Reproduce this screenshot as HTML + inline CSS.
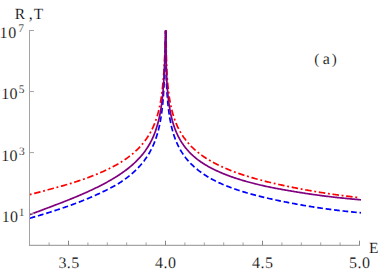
<!DOCTYPE html>
<html><head><meta charset="utf-8"><title>plot</title>
<style>
html,body{margin:0;padding:0;background:#fff;}
body{width:382px;height:273px;overflow:hidden;}
svg{display:block;}
svg text{font-family:"Liberation Serif",serif;fill:#000;text-rendering:geometricPrecision;stroke:#fff;stroke-width:0.18px;paint-order:fill stroke;}
</style></head><body>
<svg width="382" height="273" viewBox="0 0 382 273">
<defs><clipPath id="c"><rect x="28" y="30.4" width="334" height="217"/></clipPath></defs>
<rect width="382" height="273" fill="#fff"/>
<g clip-path="url(#c)" fill="none" stroke-linejoin="round" stroke-width="1.7">
<path d="M29.70,194.56 L30.66,194.31 L31.62,194.06 L32.58,193.81 L33.54,193.57 L34.50,193.32 L35.46,193.07 L36.43,192.83 L37.39,192.58 L38.35,192.33 L39.31,192.08 L40.27,191.83 L41.23,191.57 L42.19,191.32 L43.15,191.06 L44.11,190.81 L45.07,190.55 L46.03,190.29 L46.99,190.03 L47.96,189.77 L48.92,189.50 L49.88,189.24 L50.84,188.98 L51.80,188.73 L52.76,188.48 L53.72,188.23 L54.68,187.97 L55.64,187.71 L56.60,187.45 L57.56,187.19 L58.52,186.93 L59.49,186.66 L60.45,186.40 L61.41,186.13 L62.37,185.86 L63.33,185.59 L64.29,185.31 L65.25,185.04 L66.21,184.76 L67.17,184.48 L68.13,184.19 L69.09,183.91 L70.05,183.62 L71.02,183.32 L71.98,183.02 L72.94,182.72 L73.90,182.41 L74.86,182.11 L75.82,181.80 L76.78,181.48 L77.74,181.17 L78.70,180.85 L79.66,180.53 L80.62,180.20 L81.58,179.87 L82.55,179.54 L83.51,179.21 L84.47,178.87 L85.43,178.53 L86.39,178.18 L87.35,177.83 L88.31,177.48 L89.27,177.12 L90.23,176.76 L91.19,176.40 L92.15,176.03 L93.11,175.66 L94.08,175.28 L95.04,174.90 L96.00,174.51 L96.96,174.12 L97.92,173.72 L98.88,173.32 L99.84,172.91 L100.80,172.50 L101.76,172.08 L102.72,171.66 L103.68,171.23 L104.64,170.79 L105.61,170.35 L106.57,169.91 L107.53,169.45 L108.49,168.99 L109.45,168.52 L110.41,168.04 L111.37,167.56 L112.33,167.07 L113.29,166.57 L114.25,166.06 L115.21,165.54 L116.17,165.01 L117.14,164.47 L118.10,163.92 L119.06,163.36 L120.02,162.79 L120.98,162.19 L121.94,161.58 L122.90,160.96 L123.86,160.32 L124.82,159.67 L125.78,159.01 L126.74,158.33 L127.70,157.63 L128.67,156.91 L129.63,156.18 L130.59,155.43 L131.55,154.66 L132.51,153.87 L133.47,153.05 L134.43,152.21 L135.39,151.34 L136.35,150.45 L137.31,149.53 L138.27,148.58 L139.23,147.59 L140.20,146.57 L141.16,145.51 L142.12,144.41 L143.08,143.26 L144.04,142.06 L145.00,140.81 L145.73,139.81 L146.44,138.82 L147.13,137.82 L147.78,136.83 L148.42,135.83 L149.03,134.82 L149.62,133.82 L150.19,132.81 L150.73,131.81 L151.26,130.81 L151.77,129.81 L152.26,128.81 L152.73,127.82 L153.19,126.82 L153.63,125.82 L154.05,124.82 L154.46,123.83 L154.85,122.83 L155.23,121.84 L155.59,120.85 L155.94,119.85 L156.28,118.86 L156.61,117.87 L156.92,116.88 L157.23,115.89 L157.52,114.90 L157.80,113.91 L158.07,112.92 L158.33,111.93 L158.59,110.94 L158.83,109.95 L159.06,108.97 L159.29,107.98 L159.51,106.99 L159.72,106.00 L159.92,105.02 L160.11,104.04 L160.30,103.06 L160.48,102.08 L160.66,101.10 L160.82,100.12 L160.99,99.14 L161.14,98.16 L161.29,97.18 L161.44,96.20 L161.58,95.22 L161.71,94.24 L161.84,93.26 L161.97,92.29 L162.09,91.31 L162.20,90.33 L162.32,89.35 L162.42,88.37 L162.53,87.39 L162.63,86.41 L162.73,85.43 L162.82,84.46 L162.91,83.48 L163.00,82.50 L163.08,81.52 L163.16,80.54 L163.24,79.56 L163.33,78.58 L163.41,77.61 L163.49,76.63 L163.56,75.65 L163.64,74.67 L163.71,73.69 L163.78,72.71 L163.85,71.74 L163.91,70.76 L163.98,69.78 L164.04,68.80 L164.10,67.82 L164.15,66.85 L164.21,65.87 L164.26,64.89 L164.32,63.91 L164.37,62.93 L164.42,61.95 L164.47,60.98 L164.51,60.00 L164.56,59.02 L164.60,58.04 L164.65,57.06 L164.69,56.09 L164.73,55.11 L164.77,54.13 L164.81,53.15 L164.84,52.17 L164.88,51.20 L164.92,50.22 L164.95,49.24 L164.98,48.26 L165.02,47.28 L165.05,46.31 L165.08,45.33 L165.11,44.35 L165.14,43.37 L165.17,42.39 L165.20,41.42 L165.22,40.44 L165.25,39.46 L165.28,38.48 L165.30,37.50 L165.33,36.53 L165.35,35.55 L165.38,34.57 L165.40,33.59 L165.42,32.62 L165.44,31.64 L165.47,30.66 L165.49,29.68 L165.50,28.70 L165.51,27.73 L165.52,26.75 L165.53,25.77 L165.54,24.79 L165.55,23.81 L165.56,22.84 L165.57,21.86 L165.57,20.88 L165.58,19.90 L165.59,18.93 L165.60,17.95 L165.61,16.97 L165.61,15.99 L165.62,15.01 L165.63,14.04 L165.63,13.06 L165.64,12.08 L165.64,11.10 L165.65,10.12 L165.66,9.15 L165.66,8.17 L165.67,7.19 L165.67,6.21 L165.67,5.24 L165.68,4.26 L165.68,3.28 L165.69,2.30 L165.69,1.32 L165.70,0.35 L165.70,-0.63 L165.70,-1.61 L165.71,-2.59 L165.71,-3.56 L165.71,-4.54 L165.72,-5.52 L165.72,-6.50 L165.72,-7.48 L165.73,-8.45 L165.73,-9.43 L165.73,-10.41 L165.73,-11.39 L165.74,-12.36 L165.74,-13.34 L165.74,-14.32 L165.74,-15.30 L165.74,-16.28 L165.75,-17.25 L165.75,-18.23 L165.75,-19.21 L165.75,-20.19 L165.75,-21.17 L165.76,-22.14 L165.76,-23.12 L165.76,-24.10 L165.76,-25.08 L165.76,-26.05 L165.76,-27.03 L165.76,-28.01 L165.77,-28.99 L165.77,-29.97 L165.77,-30.94 L165.77,-31.92 L165.77,-32.90 L165.77,-33.88 L165.77,-34.85 L165.77,-35.83 L165.77,-36.81 L165.78,-37.79 L165.78,-38.77 L165.78,-39.74" stroke="#ff0000" stroke-dasharray="1.9 2.7 6.55 2.7"/>
<path d="M359.85,197.66 L358.88,197.56 L357.90,197.45 L356.93,197.35 L355.96,197.25 L354.98,197.13 L354.01,197.02 L353.04,196.90 L352.06,196.79 L351.09,196.67 L350.12,196.55 L349.14,196.43 L348.17,196.31 L347.19,196.19 L346.22,196.06 L345.25,195.94 L344.27,195.81 L343.30,195.69 L342.33,195.56 L341.35,195.43 L340.38,195.30 L339.41,195.17 L338.43,195.04 L337.46,194.91 L336.49,194.77 L335.51,194.64 L334.54,194.50 L333.57,194.36 L332.59,194.22 L331.62,194.09 L330.65,193.94 L329.67,193.80 L328.70,193.66 L327.73,193.51 L326.75,193.37 L325.78,193.22 L324.81,193.07 L323.83,192.92 L322.86,192.77 L321.88,192.62 L320.91,192.47 L319.94,192.31 L318.96,192.15 L317.99,192.00 L317.02,191.84 L316.04,191.67 L315.07,191.51 L314.10,191.35 L313.12,191.18 L312.15,191.01 L311.18,190.85 L310.20,190.68 L309.23,190.50 L308.26,190.33 L307.28,190.16 L306.31,189.98 L305.34,189.81 L304.36,189.63 L303.39,189.45 L302.42,189.27 L301.44,189.08 L300.47,188.90 L299.50,188.71 L298.52,188.52 L297.55,188.33 L296.57,188.14 L295.60,187.95 L294.63,187.76 L293.65,187.56 L292.68,187.36 L291.71,187.16 L290.73,186.96 L289.76,186.76 L288.79,186.57 L287.81,186.37 L286.84,186.17 L285.87,185.98 L284.89,185.77 L283.92,185.57 L282.95,185.37 L281.97,185.16 L281.00,184.95 L280.03,184.74 L279.05,184.53 L278.08,184.31 L277.11,184.10 L276.13,183.88 L275.16,183.65 L274.19,183.43 L273.21,183.20 L272.24,182.98 L271.26,182.75 L270.29,182.51 L269.32,182.28 L268.34,182.04 L267.37,181.80 L266.40,181.56 L265.42,181.31 L264.45,181.06 L263.48,180.81 L262.50,180.56 L261.53,180.30 L260.56,180.04 L259.58,179.78 L258.61,179.52 L257.64,179.26 L256.66,178.99 L255.69,178.72 L254.72,178.45 L253.74,178.17 L252.77,177.89 L251.80,177.61 L250.82,177.32 L249.85,177.03 L248.88,176.73 L247.90,176.44 L246.93,176.14 L245.95,175.83 L244.98,175.52 L244.01,175.21 L243.03,174.89 L242.06,174.57 L241.09,174.24 L240.11,173.91 L239.14,173.58 L238.17,173.24 L237.19,172.89 L236.22,172.54 L235.25,172.19 L234.27,171.83 L233.30,171.46 L232.33,171.09 L231.35,170.72 L230.38,170.34 L229.41,169.95 L228.43,169.55 L227.46,169.15 L226.49,168.75 L225.51,168.33 L224.54,167.91 L223.57,167.48 L222.59,167.05 L221.62,166.61 L220.64,166.16 L219.67,165.70 L218.70,165.23 L217.72,164.75 L216.75,164.27 L215.78,163.77 L214.80,163.27 L213.83,162.75 L212.86,162.23 L211.88,161.69 L210.91,161.14 L209.94,160.58 L208.96,160.01 L207.99,159.42 L207.02,158.82 L206.04,158.20 L205.07,157.57 L204.10,156.93 L203.12,156.27 L202.15,155.59 L201.18,154.89 L200.20,154.17 L199.23,153.43 L198.26,152.67 L197.28,151.89 L196.31,151.07 L195.33,150.22 L194.36,149.34 L193.39,148.44 L192.41,147.50 L191.44,146.53 L190.47,145.52 L189.49,144.47 L188.52,143.38 L187.55,142.24 L186.57,141.05 L185.60,139.82 L184.87,138.85 L184.16,137.89 L183.47,136.93 L182.82,135.96 L182.18,135.00 L181.57,134.03 L180.98,133.06 L180.41,132.10 L179.87,131.13 L179.34,130.16 L178.83,129.20 L178.34,128.23 L177.87,127.26 L177.41,126.29 L176.97,125.32 L176.55,124.35 L176.14,123.38 L175.75,122.41 L175.37,121.44 L175.01,120.47 L174.66,119.50 L174.32,118.53 L173.99,117.56 L173.68,116.59 L173.37,115.62 L173.08,114.64 L172.80,113.67 L172.53,112.70 L172.27,111.73 L172.01,110.75 L171.77,109.78 L171.54,108.81 L171.31,107.84 L171.09,106.86 L170.88,105.89 L170.68,104.91 L170.49,103.94 L170.30,102.97 L170.12,101.99 L169.94,101.02 L169.78,100.04 L169.61,99.07 L169.46,98.09 L169.31,97.11 L169.16,96.14 L169.02,95.16 L168.89,94.18 L168.76,93.21 L168.63,92.23 L168.51,91.25 L168.40,90.28 L168.28,89.30 L168.18,88.32 L168.07,87.34 L167.97,86.37 L167.87,85.39 L167.78,84.41 L167.69,83.44 L167.60,82.46 L167.52,81.48 L167.44,80.51 L167.37,79.53 L167.30,78.55 L167.24,77.57 L167.18,76.60 L167.12,75.62 L167.07,74.64 L167.02,73.66 L166.97,72.69 L166.92,71.71 L166.87,70.73 L166.83,69.76 L166.79,68.78 L166.75,67.80 L166.71,66.82 L166.67,65.85 L166.64,64.87 L166.60,63.89 L166.57,62.91 L166.54,61.94 L166.51,60.96 L166.49,59.98 L166.46,59.00 L166.44,58.03 L166.41,57.05 L166.39,56.07 L166.37,55.09 L166.35,54.12 L166.33,53.14 L166.31,52.16 L166.30,51.18 L166.28,50.21 L166.27,49.23 L166.25,48.25 L166.24,47.27 L166.23,46.30 L166.21,45.32 L166.20,44.34 L166.19,43.36 L166.18,42.39 L166.18,41.41 L166.17,40.43 L166.16,39.45 L166.15,38.48 L166.15,37.50 L166.14,36.52 L166.14,35.54 L166.13,34.56 L166.13,33.59 L166.13,32.61 L166.12,31.63 L166.12,30.65 L166.11,29.68 L166.10,28.70 L166.09,27.72 L166.08,26.74 L166.07,25.77 L166.06,24.79 L166.05,23.81 L166.04,22.83 L166.03,21.85 L166.03,20.88 L166.02,19.90 L166.01,18.92 L166.00,17.94 L165.99,16.97 L165.99,15.99 L165.98,15.01 L165.97,14.03 L165.97,13.06 L165.96,12.08 L165.96,11.10 L165.95,10.12 L165.94,9.14 L165.94,8.17 L165.93,7.19 L165.93,6.21 L165.93,5.23 L165.92,4.26 L165.92,3.28 L165.91,2.30 L165.91,1.32 L165.90,0.34 L165.90,-0.63 L165.90,-1.61 L165.89,-2.59 L165.89,-3.57 L165.89,-4.54 L165.88,-5.52 L165.88,-6.50 L165.88,-7.48 L165.87,-8.45 L165.87,-9.43 L165.87,-10.41 L165.87,-11.39 L165.86,-12.37 L165.86,-13.34 L165.86,-14.32 L165.86,-15.30 L165.86,-16.28 L165.85,-17.25 L165.85,-18.23 L165.85,-19.21 L165.85,-20.19 L165.85,-21.17 L165.84,-22.14 L165.84,-23.12 L165.84,-24.10 L165.84,-25.08 L165.84,-26.05 L165.84,-27.03 L165.84,-28.01 L165.83,-28.99 L165.83,-29.97 L165.83,-30.94 L165.83,-31.92 L165.83,-32.90 L165.83,-33.88 L165.83,-34.85 L165.83,-35.83 L165.83,-36.81 L165.82,-37.79 L165.82,-38.77 L165.82,-39.74" stroke="#ff0000" stroke-dasharray="1.9 2.7 6.5 2.7" stroke-dashoffset="11.1"/>
<path d="M29.70,218.30 L30.66,218.01 L31.62,217.72 L32.58,217.43 L33.54,217.15 L34.50,216.87 L35.46,216.58 L36.43,216.30 L37.39,216.01 L38.35,215.73 L39.31,215.44 L40.27,215.15 L41.23,214.86 L42.19,214.57 L43.15,214.28 L44.11,213.99 L45.07,213.70 L46.03,213.41 L46.99,213.11 L47.96,212.82 L48.92,212.52 L49.88,212.22 L50.84,211.92 L51.80,211.61 L52.76,211.30 L53.72,210.99 L54.68,210.68 L55.64,210.36 L56.60,210.05 L57.56,209.73 L58.52,209.42 L59.49,209.10 L60.45,208.78 L61.41,208.45 L62.37,208.13 L63.33,207.81 L64.29,207.48 L65.25,207.15 L66.21,206.82 L67.17,206.49 L68.13,206.15 L69.09,205.82 L70.05,205.48 L71.02,205.13 L71.98,204.77 L72.94,204.42 L73.90,204.06 L74.86,203.70 L75.82,203.33 L76.78,202.97 L77.74,202.60 L78.70,202.23 L79.66,201.85 L80.62,201.48 L81.58,201.10 L82.55,200.72 L83.51,200.33 L84.47,199.94 L85.43,199.55 L86.39,199.16 L87.35,198.76 L88.31,198.36 L89.27,197.95 L90.23,197.55 L91.19,197.13 L92.15,196.72 L93.11,196.30 L94.08,195.87 L95.04,195.44 L96.00,195.01 L96.96,194.57 L97.92,194.13 L98.88,193.68 L99.84,193.23 L100.80,192.77 L101.76,192.31 L102.72,191.84 L103.68,191.37 L104.64,190.89 L105.61,190.42 L106.57,189.95 L107.53,189.48 L108.49,189.00 L109.45,188.51 L110.41,188.01 L111.37,187.51 L112.33,187.00 L113.29,186.48 L114.25,185.95 L115.21,185.42 L116.17,184.87 L117.14,184.32 L118.10,183.75 L119.06,183.18 L120.02,182.59 L120.98,181.95 L121.94,181.30 L122.90,180.63 L123.86,179.96 L124.82,179.27 L125.78,178.56 L126.74,177.84 L127.70,177.10 L128.67,176.35 L129.63,175.58 L130.59,174.79 L131.55,173.98 L132.51,173.14 L133.47,172.29 L134.43,171.41 L135.39,170.51 L136.35,169.58 L137.31,168.62 L138.27,167.63 L139.23,166.61 L140.20,165.55 L141.16,164.45 L142.12,163.31 L143.08,162.13 L144.04,160.90 L145.00,159.61 L145.73,158.59 L146.44,157.56 L147.13,156.54 L147.78,155.52 L148.42,154.51 L149.03,153.49 L149.62,152.48 L150.19,151.46 L150.73,150.45 L151.26,149.44 L151.77,148.43 L152.26,147.43 L152.73,146.42 L153.19,145.41 L153.63,144.41 L154.05,143.41 L154.46,142.40 L154.85,141.40 L155.23,140.39 L155.59,139.38 L155.94,138.38 L156.28,137.37 L156.61,136.36 L156.92,135.35 L157.23,134.35 L157.52,133.35 L157.80,132.34 L158.07,131.34 L158.33,130.34 L158.59,129.34 L158.83,128.34 L159.06,127.34 L159.29,126.34 L159.51,125.35 L159.72,124.35 L159.92,123.36 L160.11,122.36 L160.30,121.37 L160.48,120.37 L160.66,119.38 L160.82,118.39 L160.99,117.39 L161.14,116.40 L161.29,115.41 L161.44,114.42 L161.58,113.43 L161.71,112.44 L161.84,111.45 L161.97,110.46 L162.09,109.48 L162.20,108.49 L162.32,107.50 L162.42,106.51 L162.53,105.53 L162.63,104.54 L162.73,103.55 L162.82,102.57 L162.91,101.58 L163.00,100.60 L163.08,99.62 L163.16,98.64 L163.24,97.66 L163.31,96.68 L163.38,95.70 L163.45,94.72 L163.52,93.74 L163.58,92.76 L163.65,91.78 L163.71,90.80 L163.76,89.82 L163.82,88.84 L163.87,87.86 L163.92,86.88 L163.97,85.90 L164.02,84.92 L164.07,83.94 L164.11,82.96 L164.16,81.98 L164.20,81.00 L164.24,80.02 L164.29,79.05 L164.33,78.07 L164.38,77.09 L164.42,76.11 L164.47,75.13 L164.51,74.15 L164.55,73.17 L164.59,72.19 L164.63,71.22 L164.66,70.24 L164.70,69.26 L164.73,68.28 L164.77,67.30 L164.80,66.32 L164.84,65.34 L164.87,64.37 L164.90,63.39 L164.93,62.41 L164.96,61.43 L164.99,60.45 L165.02,59.47 L165.04,58.50 L165.07,57.52 L165.10,56.54 L165.12,55.56 L165.15,54.58 L165.17,53.60 L165.20,52.63 L165.22,51.65 L165.24,50.67 L165.26,49.69 L165.29,48.71 L165.31,47.74 L165.33,46.76 L165.35,45.78 L165.37,44.80 L165.39,43.82 L165.41,42.85 L165.43,41.87 L165.45,40.89 L165.47,39.91 L165.48,38.93 L165.50,37.95 L165.52,36.98 L165.54,36.00 L165.56,35.02 L165.57,34.04 L165.59,33.06 L165.60,32.09 L165.62,31.11 L165.64,30.13 L165.64,29.15 L165.65,28.18 L165.66,27.20 L165.66,26.22 L165.67,25.24 L165.67,24.26 L165.67,23.29 L165.68,22.31 L165.68,21.33 L165.69,20.35 L165.69,19.37 L165.70,18.40 L165.70,17.42 L165.70,16.44 L165.71,15.46 L165.71,14.48 L165.71,13.51 L165.72,12.53 L165.72,11.55 L165.72,10.57 L165.73,9.60 L165.73,8.62 L165.73,7.64 L165.73,6.66 L165.74,5.68 L165.74,4.71 L165.74,3.73 L165.74,2.75 L165.74,1.77 L165.75,0.79 L165.75,-0.18 L165.75,-1.16 L165.75,-2.14 L165.75,-3.12 L165.76,-4.09 L165.76,-5.07 L165.76,-6.05 L165.76,-7.03 L165.76,-8.01 L165.76,-8.98 L165.76,-9.96 L165.77,-10.94 L165.77,-11.92 L165.77,-12.90 L165.77,-13.87 L165.77,-14.85 L165.77,-15.83 L165.77,-16.81 L165.77,-17.78 L165.77,-18.76 L165.78,-19.74 L165.78,-20.72 L165.78,-21.70 L165.78,-22.67 L165.78,-23.65 L165.78,-24.63 L165.78,-25.61 L165.78,-26.58 L165.78,-27.56 L165.78,-28.54 L165.78,-29.52 L165.78,-30.50 L165.78,-31.47 L165.78,-32.45 L165.79,-33.43 L165.79,-34.41 L165.79,-35.38 L165.79,-36.36 L165.79,-37.34 L165.79,-38.32 L165.79,-39.30" stroke="#0000ff" stroke-dasharray="5.75 2.87"/>
<path d="M361.00,212.80 L360.02,212.71 L359.04,212.62 L358.06,212.53 L357.08,212.43 L356.10,212.33 L355.12,212.24 L354.14,212.14 L353.16,212.04 L352.18,211.95 L351.20,211.85 L350.22,211.74 L349.24,211.64 L348.26,211.54 L347.28,211.43 L346.30,211.33 L345.32,211.22 L344.34,211.11 L343.36,211.00 L342.38,210.89 L341.40,210.78 L340.42,210.66 L339.44,210.55 L338.46,210.43 L337.48,210.31 L336.50,210.19 L335.52,210.07 L334.54,209.95 L333.56,209.83 L332.58,209.71 L331.60,209.58 L330.62,209.45 L329.64,209.32 L328.66,209.19 L327.68,209.06 L326.70,208.93 L325.72,208.80 L324.74,208.66 L323.76,208.52 L322.78,208.39 L321.80,208.25 L320.82,208.11 L319.84,207.96 L318.86,207.82 L317.88,207.67 L316.91,207.52 L315.93,207.38 L314.95,207.22 L313.97,207.07 L312.99,206.92 L312.01,206.76 L311.03,206.61 L310.05,206.45 L309.07,206.29 L308.09,206.13 L307.11,205.96 L306.13,205.80 L305.15,205.63 L304.17,205.47 L303.19,205.30 L302.21,205.13 L301.23,204.95 L300.25,204.78 L299.27,204.60 L298.29,204.42 L297.31,204.24 L296.33,204.06 L295.35,203.88 L294.37,203.69 L293.39,203.51 L292.41,203.32 L291.43,203.13 L290.45,202.94 L289.47,202.75 L288.49,202.57 L287.51,202.39 L286.53,202.20 L285.55,202.01 L284.57,201.83 L283.59,201.63 L282.61,201.44 L281.63,201.25 L280.65,201.05 L279.67,200.85 L278.69,200.65 L277.71,200.44 L276.73,200.24 L275.75,200.03 L274.77,199.82 L273.79,199.61 L272.81,199.39 L271.83,199.17 L270.85,198.95 L269.87,198.73 L268.89,198.51 L267.91,198.28 L266.93,198.05 L265.95,197.82 L264.97,197.58 L263.99,197.34 L263.01,197.10 L262.03,196.86 L261.05,196.61 L260.07,196.36 L259.09,196.12 L258.11,195.88 L257.13,195.63 L256.15,195.38 L255.17,195.13 L254.19,194.87 L253.21,194.61 L252.23,194.35 L251.25,194.08 L250.27,193.81 L249.29,193.54 L248.31,193.26 L247.33,192.98 L246.35,192.70 L245.37,192.41 L244.39,192.12 L243.41,191.82 L242.43,191.52 L241.45,191.21 L240.47,190.90 L239.49,190.59 L238.51,190.27 L237.53,189.94 L236.55,189.62 L235.57,189.28 L234.59,188.94 L233.61,188.60 L232.63,188.25 L231.65,187.89 L230.67,187.53 L229.69,187.16 L228.72,186.79 L227.74,186.41 L226.76,186.03 L225.78,185.63 L224.80,185.23 L223.82,184.83 L222.84,184.41 L221.86,183.99 L220.88,183.56 L219.90,183.12 L218.92,182.67 L217.94,182.22 L216.96,181.75 L215.98,181.28 L215.00,180.79 L214.02,180.29 L213.04,179.77 L212.06,179.24 L211.08,178.69 L210.10,178.14 L209.12,177.57 L208.14,176.99 L207.16,176.40 L206.18,175.79 L205.20,175.17 L204.22,174.53 L203.24,173.87 L202.26,173.20 L201.28,172.50 L200.30,171.79 L199.32,171.06 L198.34,170.31 L197.36,169.53 L196.38,168.73 L195.40,167.90 L194.42,167.04 L193.44,166.16 L192.46,165.24 L191.48,164.28 L190.50,163.29 L189.52,162.26 L188.54,161.19 L187.56,160.07 L186.58,158.90 L185.60,157.67 L184.87,156.71 L184.16,155.75 L183.47,154.79 L182.82,153.83 L182.18,152.86 L181.57,151.90 L180.98,150.94 L180.41,149.97 L179.87,149.01 L179.34,148.04 L178.83,147.08 L178.34,146.11 L177.87,145.15 L177.41,144.18 L176.97,143.21 L176.55,142.25 L176.14,141.28 L175.75,140.31 L175.37,139.34 L175.01,138.38 L174.66,137.41 L174.32,136.44 L173.99,135.47 L173.68,134.50 L173.37,133.53 L173.08,132.56 L172.80,131.59 L172.53,130.62 L172.27,129.65 L172.01,128.68 L171.77,127.71 L171.54,126.74 L171.31,125.77 L171.09,124.80 L170.88,123.83 L170.68,122.86 L170.49,121.88 L170.30,120.91 L170.12,119.94 L169.94,118.97 L169.78,117.99 L169.61,117.02 L169.46,116.05 L169.31,115.07 L169.16,114.10 L169.02,113.13 L168.89,112.15 L168.76,111.18 L168.63,110.20 L168.51,109.23 L168.40,108.26 L168.28,107.28 L168.18,106.31 L168.07,105.33 L167.97,104.36 L167.87,103.38 L167.78,102.41 L167.69,101.43 L167.60,100.46 L167.52,99.48 L167.44,98.51 L167.36,97.53 L167.29,96.55 L167.22,95.58 L167.15,94.60 L167.08,93.63 L167.02,92.65 L166.95,91.68 L166.89,90.70 L166.84,89.72 L166.78,88.75 L166.73,87.77 L166.68,86.80 L166.63,85.82 L166.58,84.84 L166.53,83.87 L166.49,82.89 L166.44,81.91 L166.40,80.94 L166.36,79.96 L166.33,78.98 L166.31,78.01 L166.28,77.03 L166.26,76.05 L166.23,75.08 L166.21,74.10 L166.19,73.12 L166.17,72.15 L166.15,71.17 L166.13,70.19 L166.12,69.22 L166.10,68.24 L166.09,67.26 L166.07,66.28 L166.06,65.31 L166.05,64.33 L166.03,63.35 L166.02,62.38 L166.01,61.40 L166.00,60.42 L166.00,59.44 L165.99,58.47 L165.98,57.49 L165.97,56.51 L165.97,55.54 L165.96,54.56 L165.96,53.58 L165.95,52.60 L165.95,51.63 L165.94,50.65 L165.94,49.67 L165.94,48.69 L165.94,47.72 L165.94,46.74 L165.93,45.76 L165.93,44.78 L165.93,43.81 L165.93,42.83 L165.93,41.85 L165.93,40.87 L165.94,39.90 L165.94,38.92 L165.94,37.94 L165.94,36.96 L165.94,35.99 L165.94,35.01 L165.95,34.03 L165.95,33.05 L165.95,32.08 L165.96,31.10 L165.96,30.12 L165.96,29.14 L165.95,28.17 L165.94,27.19 L165.94,26.21 L165.93,25.23 L165.93,24.26 L165.93,23.28 L165.92,22.30 L165.92,21.32 L165.91,20.34 L165.91,19.37 L165.90,18.39 L165.90,17.41 L165.90,16.43 L165.89,15.46 L165.89,14.48 L165.89,13.50 L165.88,12.52 L165.88,11.55 L165.88,10.57 L165.87,9.59 L165.87,8.61 L165.87,7.64 L165.87,6.66 L165.86,5.68 L165.86,4.70 L165.86,3.72 L165.86,2.75 L165.86,1.77 L165.85,0.79 L165.85,-0.19 L165.85,-1.16 L165.85,-2.14 L165.85,-3.12 L165.84,-4.10 L165.84,-5.08 L165.84,-6.05 L165.84,-7.03 L165.84,-8.01 L165.84,-8.99 L165.84,-9.96 L165.83,-10.94 L165.83,-11.92 L165.83,-12.90 L165.83,-13.87 L165.83,-14.85 L165.83,-15.83 L165.83,-16.81 L165.83,-17.79 L165.83,-18.76 L165.82,-19.74 L165.82,-20.72 L165.82,-21.70 L165.82,-22.67 L165.82,-23.65 L165.82,-24.63 L165.82,-25.61 L165.82,-26.59 L165.82,-27.56 L165.82,-28.54 L165.82,-29.52 L165.82,-30.50 L165.82,-31.47 L165.82,-32.45 L165.81,-33.43 L165.81,-34.41 L165.81,-35.39 L165.81,-36.36 L165.81,-37.34 L165.81,-38.32 L165.81,-39.30" stroke="#0000ff" stroke-dasharray="5.7 2.82" stroke-dashoffset="4.2"/>
<path d="M29.70,214.68 L30.66,214.31 L31.62,213.93 L32.58,213.57 L33.54,213.22 L34.50,212.86 L35.46,212.51 L36.43,212.15 L37.39,211.79 L38.35,211.43 L39.31,211.08 L40.27,210.72 L41.23,210.36 L42.19,210.00 L43.15,209.64 L44.11,209.27 L45.07,208.91 L46.03,208.55 L46.99,208.18 L47.96,207.82 L48.92,207.45 L49.88,207.09 L50.84,206.73 L51.80,206.37 L52.76,206.01 L53.72,205.65 L54.68,205.28 L55.64,204.92 L56.60,204.55 L57.56,204.19 L58.52,203.82 L59.49,203.45 L60.45,203.08 L61.41,202.71 L62.37,202.34 L63.33,201.96 L64.29,201.58 L65.25,201.21 L66.21,200.83 L67.17,200.45 L68.13,200.06 L69.09,199.68 L70.05,199.29 L71.02,198.90 L71.98,198.51 L72.94,198.12 L73.90,197.72 L74.86,197.32 L75.82,196.92 L76.78,196.52 L77.74,196.12 L78.70,195.71 L79.66,195.30 L80.62,194.89 L81.58,194.47 L82.55,194.05 L83.51,193.63 L84.47,193.21 L85.43,192.78 L86.39,192.35 L87.35,191.92 L88.31,191.48 L89.27,191.04 L90.23,190.60 L91.19,190.16 L92.15,189.70 L93.11,189.25 L94.08,188.79 L95.04,188.33 L96.00,187.86 L96.96,187.39 L97.92,186.92 L98.88,186.44 L99.84,185.95 L100.80,185.46 L101.76,184.97 L102.72,184.46 L103.68,183.96 L104.64,183.45 L105.61,182.93 L106.57,182.41 L107.53,181.88 L108.49,181.34 L109.45,180.80 L110.41,180.25 L111.37,179.69 L112.33,179.13 L113.29,178.56 L114.25,177.97 L115.21,177.38 L116.17,176.79 L117.14,176.18 L118.10,175.56 L119.06,174.93 L120.02,174.29 L120.98,173.64 L121.94,172.98 L122.90,172.31 L123.86,171.62 L124.82,170.93 L125.78,170.21 L126.74,169.48 L127.70,168.74 L128.67,167.98 L129.63,167.20 L130.59,166.40 L131.55,165.59 L132.51,164.75 L133.47,163.89 L134.43,163.00 L135.39,162.09 L136.35,161.16 L137.31,160.19 L138.27,159.20 L139.23,158.17 L140.20,157.11 L141.16,156.00 L142.12,154.86 L143.08,153.67 L144.04,152.43 L145.00,151.14 L145.73,150.12 L146.44,149.09 L147.13,148.07 L147.78,147.04 L148.42,146.02 L149.03,145.01 L149.62,143.99 L150.19,142.98 L150.73,141.96 L151.26,140.95 L151.77,139.94 L152.26,138.91 L152.73,137.87 L153.19,136.84 L153.63,135.80 L154.05,134.77 L154.46,133.74 L154.85,132.71 L155.23,131.69 L155.59,130.66 L155.94,129.64 L156.28,128.62 L156.61,127.60 L156.92,126.58 L157.23,125.57 L157.52,124.55 L157.80,123.54 L158.07,122.53 L158.33,121.52 L158.59,120.51 L158.83,119.50 L159.06,118.49 L159.29,117.48 L159.51,116.48 L159.72,115.48 L159.92,114.47 L160.11,113.47 L160.30,112.47 L160.48,111.47 L160.66,110.47 L160.82,109.47 L160.99,108.47 L161.14,107.47 L161.29,106.48 L161.44,105.48 L161.58,104.49 L161.71,103.49 L161.84,102.50 L161.97,101.50 L162.09,100.52 L162.20,99.53 L162.32,98.55 L162.42,97.56 L162.53,96.58 L162.63,95.59 L162.73,94.61 L162.82,93.63 L162.91,92.64 L163.00,91.66 L163.08,90.68 L163.16,89.69 L163.24,88.71 L163.31,87.73 L163.38,86.75 L163.45,85.76 L163.52,84.78 L163.58,83.80 L163.65,82.82 L163.71,81.84 L163.76,80.85 L163.82,79.87 L163.88,78.89 L163.95,77.91 L164.01,76.93 L164.06,75.95 L164.12,74.97 L164.17,73.99 L164.23,73.01 L164.28,72.03 L164.33,71.05 L164.38,70.07 L164.42,69.09 L164.47,68.11 L164.51,67.13 L164.56,66.15 L164.60,65.17 L164.64,64.19 L164.68,63.21 L164.72,62.23 L164.75,61.25 L164.79,60.27 L164.82,59.29 L164.86,58.31 L164.89,57.33 L164.93,56.35 L164.96,55.37 L164.99,54.39 L165.02,53.41 L165.05,52.43 L165.08,51.46 L165.11,50.48 L165.13,49.50 L165.16,48.52 L165.19,47.54 L165.21,46.56 L165.24,45.58 L165.26,44.60 L165.29,43.63 L165.31,42.65 L165.33,41.67 L165.35,40.69 L165.38,39.71 L165.40,38.73 L165.42,37.75 L165.44,36.78 L165.46,35.80 L165.48,34.82 L165.50,33.84 L165.52,32.86 L165.54,31.88 L165.56,30.91 L165.57,29.93 L165.58,28.95 L165.59,27.97 L165.60,26.99 L165.61,26.01 L165.61,25.04 L165.62,24.06 L165.63,23.08 L165.63,22.10 L165.64,21.12 L165.64,20.14 L165.65,19.17 L165.66,18.19 L165.66,17.21 L165.67,16.23 L165.67,15.25 L165.67,14.28 L165.68,13.30 L165.68,12.32 L165.69,11.34 L165.69,10.36 L165.70,9.39 L165.70,8.41 L165.70,7.43 L165.71,6.45 L165.71,5.47 L165.71,4.50 L165.72,3.52 L165.72,2.54 L165.72,1.56 L165.73,0.58 L165.73,-0.39 L165.73,-1.37 L165.73,-2.35 L165.74,-3.33 L165.74,-4.31 L165.74,-5.28 L165.74,-6.26 L165.74,-7.24 L165.75,-8.22 L165.75,-9.19 L165.75,-10.17 L165.75,-11.15 L165.75,-12.13 L165.76,-13.11 L165.76,-14.08 L165.76,-15.06 L165.76,-16.04 L165.76,-17.02 L165.76,-18.00 L165.76,-18.97 L165.77,-19.95 L165.77,-20.93 L165.77,-21.91 L165.77,-22.89 L165.77,-23.86 L165.77,-24.84 L165.77,-25.82 L165.77,-26.80 L165.77,-27.77 L165.78,-28.75 L165.78,-29.73 L165.78,-30.71 L165.78,-31.69 L165.78,-32.66 L165.78,-33.64 L165.78,-34.62 L165.78,-35.60 L165.78,-36.57 L165.78,-37.55 L165.78,-38.53 L165.78,-39.51" stroke="#800080"/>
<path d="M361.00,199.81 L360.02,199.73 L359.04,199.65 L358.06,199.56 L357.08,199.47 L356.10,199.39 L355.12,199.30 L354.14,199.21 L353.16,199.12 L352.18,199.03 L351.20,198.94 L350.22,198.85 L349.24,198.76 L348.26,198.66 L347.28,198.57 L346.30,198.47 L345.32,198.37 L344.34,198.27 L343.36,198.17 L342.38,198.07 L341.40,197.97 L340.42,197.86 L339.44,197.76 L338.46,197.65 L337.48,197.55 L336.50,197.44 L335.52,197.33 L334.54,197.22 L333.56,197.11 L332.58,196.99 L331.60,196.88 L330.62,196.76 L329.64,196.65 L328.66,196.53 L327.68,196.41 L326.70,196.29 L325.72,196.17 L324.74,196.05 L323.76,195.92 L322.78,195.80 L321.80,195.67 L320.82,195.54 L319.84,195.41 L318.86,195.28 L317.88,195.15 L316.91,195.02 L315.93,194.89 L314.95,194.75 L313.97,194.61 L312.99,194.48 L312.01,194.34 L311.03,194.20 L310.05,194.05 L309.07,193.91 L308.09,193.77 L307.11,193.62 L306.13,193.47 L305.15,193.32 L304.17,193.17 L303.19,193.02 L302.21,192.87 L301.23,192.71 L300.25,192.55 L299.27,192.40 L298.29,192.24 L297.31,192.08 L296.33,191.91 L295.35,191.75 L294.37,191.58 L293.39,191.41 L292.41,191.24 L291.43,191.07 L290.45,190.90 L289.47,190.73 L288.49,190.57 L287.51,190.41 L286.53,190.24 L285.55,190.07 L284.57,189.91 L283.59,189.73 L282.61,189.56 L281.63,189.39 L280.65,189.21 L279.67,189.03 L278.69,188.85 L277.71,188.67 L276.73,188.48 L275.75,188.30 L274.77,188.11 L273.79,187.92 L272.81,187.72 L271.83,187.53 L270.85,187.33 L269.87,187.13 L268.89,186.92 L267.91,186.72 L266.93,186.51 L265.95,186.30 L264.97,186.09 L263.99,185.87 L263.01,185.66 L262.03,185.44 L261.05,185.21 L260.07,184.99 L259.09,184.76 L258.11,184.52 L257.13,184.28 L256.15,184.04 L255.17,183.80 L254.19,183.55 L253.21,183.30 L252.23,183.05 L251.25,182.79 L250.27,182.53 L249.29,182.27 L248.31,182.00 L247.33,181.73 L246.35,181.46 L245.37,181.18 L244.39,180.90 L243.41,180.61 L242.43,180.32 L241.45,180.03 L240.47,179.73 L239.49,179.42 L238.51,179.12 L237.53,178.80 L236.55,178.49 L235.57,178.16 L234.59,177.84 L233.61,177.51 L232.63,177.17 L231.65,176.83 L230.67,176.48 L229.69,176.12 L228.72,175.76 L227.74,175.40 L226.76,175.02 L225.78,174.64 L224.80,174.26 L223.82,173.86 L222.84,173.46 L221.86,173.06 L220.88,172.64 L219.90,172.22 L218.92,171.78 L217.94,171.34 L216.96,170.89 L215.98,170.43 L215.00,169.96 L214.02,169.49 L213.04,169.01 L212.06,168.51 L211.08,168.00 L210.10,167.48 L209.12,166.95 L208.14,166.41 L207.16,165.85 L206.18,165.28 L205.20,164.69 L204.22,164.09 L203.24,163.47 L202.26,162.83 L201.28,162.17 L200.30,161.50 L199.32,160.80 L198.34,160.09 L197.36,159.35 L196.38,158.58 L195.40,157.78 L194.42,156.95 L193.44,156.10 L192.46,155.21 L191.48,154.28 L190.50,153.32 L189.52,152.33 L188.54,151.28 L187.56,150.19 L186.58,149.05 L185.60,147.86 L184.87,146.92 L184.16,145.98 L183.47,145.04 L182.82,144.10 L182.18,143.16 L181.57,142.22 L180.98,141.27 L180.41,140.33 L179.87,139.38 L179.34,138.44 L178.83,137.50 L178.34,136.56 L177.87,135.61 L177.41,134.67 L176.97,133.72 L176.55,132.77 L176.14,131.82 L175.75,130.87 L175.37,129.92 L175.01,128.97 L174.66,128.02 L174.32,127.07 L173.99,126.11 L173.68,125.16 L173.37,124.20 L173.08,123.25 L172.80,122.29 L172.53,121.33 L172.27,120.37 L172.01,119.41 L171.77,118.45 L171.54,117.49 L171.31,116.53 L171.09,115.57 L170.88,114.61 L170.68,113.65 L170.49,112.68 L170.30,111.72 L170.12,110.75 L169.94,109.79 L169.78,108.82 L169.61,107.86 L169.46,106.89 L169.31,105.93 L169.16,104.96 L169.02,103.99 L168.89,103.02 L168.76,102.05 L168.63,101.08 L168.51,100.11 L168.40,99.14 L168.28,98.17 L168.18,97.20 L168.07,96.23 L167.97,95.26 L167.87,94.29 L167.78,93.31 L167.69,92.34 L167.60,91.37 L167.52,90.40 L167.44,89.42 L167.36,88.45 L167.29,87.48 L167.22,86.50 L167.15,85.53 L167.08,84.56 L167.02,83.58 L166.95,82.61 L166.89,81.64 L166.84,80.66 L166.78,79.69 L166.74,78.71 L166.70,77.74 L166.66,76.76 L166.62,75.79 L166.58,74.81 L166.55,73.84 L166.51,72.86 L166.48,71.89 L166.45,70.91 L166.42,69.94 L166.40,68.96 L166.37,67.99 L166.35,67.01 L166.32,66.03 L166.30,65.06 L166.28,64.08 L166.26,63.11 L166.24,62.13 L166.22,61.16 L166.21,60.18 L166.19,59.20 L166.18,58.23 L166.16,57.25 L166.15,56.27 L166.14,55.30 L166.12,54.32 L166.11,53.35 L166.10,52.37 L166.09,51.39 L166.09,50.42 L166.08,49.44 L166.07,48.46 L166.06,47.49 L166.06,46.51 L166.05,45.53 L166.05,44.55 L166.04,43.58 L166.04,42.60 L166.04,41.62 L166.03,40.65 L166.03,39.67 L166.03,38.69 L166.03,37.72 L166.02,36.74 L166.02,35.76 L166.02,34.78 L166.02,33.81 L166.02,32.83 L166.02,31.85 L166.03,30.88 L166.03,29.90 L166.02,28.92 L166.01,27.94 L166.00,26.97 L165.99,25.99 L165.99,25.01 L165.98,24.03 L165.97,23.06 L165.97,22.08 L165.96,21.10 L165.96,20.13 L165.95,19.15 L165.94,18.17 L165.94,17.19 L165.93,16.22 L165.93,15.24 L165.93,14.26 L165.92,13.28 L165.92,12.31 L165.91,11.33 L165.91,10.35 L165.90,9.37 L165.90,8.40 L165.90,7.42 L165.89,6.44 L165.89,5.46 L165.89,4.49 L165.88,3.51 L165.88,2.53 L165.88,1.55 L165.87,0.57 L165.87,-0.40 L165.87,-1.38 L165.87,-2.36 L165.86,-3.34 L165.86,-4.31 L165.86,-5.29 L165.86,-6.27 L165.86,-7.25 L165.85,-8.22 L165.85,-9.20 L165.85,-10.18 L165.85,-11.16 L165.85,-12.13 L165.84,-13.11 L165.84,-14.09 L165.84,-15.07 L165.84,-16.05 L165.84,-17.02 L165.84,-18.00 L165.84,-18.98 L165.83,-19.96 L165.83,-20.93 L165.83,-21.91 L165.83,-22.89 L165.83,-23.87 L165.83,-24.84 L165.83,-25.82 L165.83,-26.80 L165.83,-27.78 L165.82,-28.76 L165.82,-29.73 L165.82,-30.71 L165.82,-31.69 L165.82,-32.67 L165.82,-33.64 L165.82,-34.62 L165.82,-35.60 L165.82,-36.58 L165.82,-37.55 L165.82,-38.53 L165.82,-39.51" stroke="#800080"/>
</g>
<g stroke="#909090" stroke-width="1" fill="none">
<path d="M29.5,30 V245.70000000000002" stroke="#a4a4a4"/>
<path d="M29.1,245.3 H359.8"/>
</g>
<g stroke="#868686" stroke-width="1" fill="none">
<line x1="49.10" y1="245.3" x2="49.10" y2="242.4" stroke-opacity="0.75"/>
<line x1="68.50" y1="245.3" x2="68.50" y2="240.70000000000002"/>
<line x1="87.90" y1="245.3" x2="87.90" y2="242.4" stroke-opacity="0.75"/>
<line x1="107.30" y1="245.3" x2="107.30" y2="242.4" stroke-opacity="0.75"/>
<line x1="126.70" y1="245.3" x2="126.70" y2="242.4" stroke-opacity="0.75"/>
<line x1="146.10" y1="245.3" x2="146.10" y2="242.4" stroke-opacity="0.75"/>
<line x1="165.50" y1="245.3" x2="165.50" y2="240.70000000000002"/>
<line x1="184.90" y1="245.3" x2="184.90" y2="242.4" stroke-opacity="0.75"/>
<line x1="204.30" y1="245.3" x2="204.30" y2="242.4" stroke-opacity="0.75"/>
<line x1="223.70" y1="245.3" x2="223.70" y2="242.4" stroke-opacity="0.75"/>
<line x1="243.10" y1="245.3" x2="243.10" y2="242.4" stroke-opacity="0.75"/>
<line x1="262.50" y1="245.3" x2="262.50" y2="240.70000000000002"/>
<line x1="281.90" y1="245.3" x2="281.90" y2="242.4" stroke-opacity="0.75"/>
<line x1="301.30" y1="245.3" x2="301.30" y2="242.4" stroke-opacity="0.75"/>
<line x1="320.70" y1="245.3" x2="320.70" y2="242.4" stroke-opacity="0.75"/>
<line x1="340.10" y1="245.3" x2="340.10" y2="242.4" stroke-opacity="0.75"/>
<line x1="359.50" y1="245.3" x2="359.50" y2="240.70000000000002"/>
<line x1="29.5" y1="213.65" x2="34.0" y2="213.65" stroke="#a4a4a4"/>
<line x1="29.5" y1="152.60" x2="34.0" y2="152.60" stroke="#a4a4a4"/>
<line x1="29.5" y1="91.55" x2="34.0" y2="91.55" stroke="#a4a4a4"/>
<line x1="29.5" y1="30.50" x2="34.0" y2="30.50" stroke="#a4a4a4"/>
</g>
<g font-size="16">
<text x="14.85" y="18.60" font-size="15.5">R</text>
<text x="28.75" y="18.60">,</text>
<text x="33.81" y="18.60" font-size="15.5">T</text>
<text x="369.00" y="252.90" font-size="15.5">E</text>
<text x="58.40" y="267.5" letter-spacing="0.4">3.5</text>
<text x="155.10" y="267.5" letter-spacing="0.4">4.0</text>
<text x="252.10" y="267.5" letter-spacing="0.4">4.5</text>
<text x="349.10" y="267.5" letter-spacing="0.4">5.0</text>
<text x="314.21" y="63.50" font-size="15">(</text>
<text x="322.63" y="63.80">a</text>
<text x="331.64" y="63.50" font-size="15">)</text>
<text x="-0.47" y="38.00">1</text>
<text x="8.30" y="38.00">0</text>
<text x="18.21" y="31.80" font-size="11.5">7</text>
<text x="1.18" y="99.10">1</text>
<text x="9.50" y="99.10">0</text>
<text x="18.82" y="93.00" font-size="11.5">5</text>
<text x="1.18" y="160.90">1</text>
<text x="9.50" y="160.90">0</text>
<text x="18.97" y="154.80" font-size="11.5">3</text>
<text x="1.73" y="222.30">1</text>
<text x="10.00" y="222.30">0</text>
<text x="18.86" y="215.70" font-size="11.5">1</text>
</g></svg>
</body></html>
